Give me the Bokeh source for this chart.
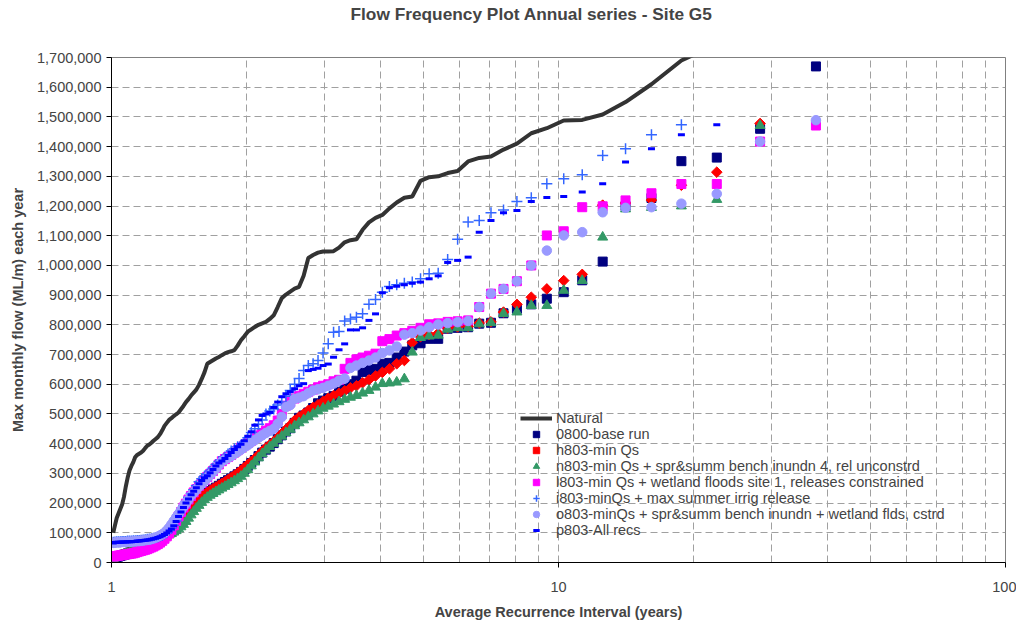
import numpy as np
from bokeh.plotting import figure
from bokeh.models import Range1d, FixedTicker, NumeralTickFormatter, ColumnDataSource, Title
from bokeh.embed import file_html
from bokeh.resources import INLINE

# ---------------- data (flows in thousand ML/m, ranked largest first) ----------------
N_YEARS = 112
rank = np.arange(1, N_YEARS + 1)
ari = (N_YEARS + 1) / rank  # Weibull plotting position, Average Recurrence Interval (years)

natural = [2300, 2050, 1900, 1820, 1745, 1690, 1610, 1550, 1508, 1490,
           1488, 1462, 1445, 1410, 1390, 1367, 1362, 1350, 1318, 1311,
           1300, 1297, 1285, 1232, 1228, 1212, 1192, 1170, 1160, 1145,
           1120, 1088, 1085, 1078, 1060, 1048, 1047, 1047, 1043, 1035,
           1025, 965, 928, 922, 912, 902, 890, 860, 832, 820,
           810, 805, 800, 793, 785, 777, 762, 748, 730, 715,
           711, 708, 704, 698, 692, 687, 681, 675, 669, 640,
           618, 598, 582, 572, 562, 550, 540, 527, 516, 505,
           499, 493, 486, 480, 470, 460, 445, 432, 422, 416,
           410, 403, 397, 393, 385, 376, 370, 366, 362, 355,
           338, 325, 310, 285, 255, 220, 195, 180, 165, 150,
           125, 100]

base_0800 = [1850, 1760, 1670, 1460, 1363, 1351, 1227, 1200, 1013, 950,
             910, 888, 869, 854, 839, 807, 804, 792, 790, 787,
             753, 753, 738, 731, 710, 690, 672, 669, 652, 648,
             641, 612, 600, 585, 575, 560, 553, 545, 536, 520,
             505, 495, 487, 470, 452, 441, 428, 415, 402, 390,
             380, 370, 358, 345, 335, 325, 315, 305, 297, 290,
             283, 277, 271, 265, 258, 252, 246, 240, 235, 228,
             220, 212, 202, 192, 182, 170, 160, 148, 138, 128,
             118, 110, 104, 99, 94, 90, 86, 82, 78, 74,
             70, 66, 61, 57, 54, 51, 48, 45, 43, 40,
             38, 35, 33, 30, 28, 26, 24, 22, 20, 18,
             15, 10]

h803 = [2000, 1900, 1800, 1478, 1314, 1270, 1220, 1210, 1203, 970,
        949, 921, 893, 869, 843, 810, 806, 795, 793, 789,
        772, 767, 760, 740, 680, 669, 652, 640, 628, 615,
        605, 595, 588, 578, 570, 562, 553, 542, 531, 522,
        512, 500, 490, 478, 462, 448, 434, 420, 407, 396,
        386, 374, 362, 350, 340, 330, 320, 310, 301, 293,
        286, 279, 272, 266, 260, 254, 248, 242, 236, 229,
        221, 213, 203, 193, 183, 172, 161, 150, 140, 130,
        120, 112, 106, 100, 95, 90, 86, 82, 78, 74,
        70, 66, 62, 58, 55, 52, 49, 46, 43, 41,
        38, 36, 34, 32, 30, 28, 26, 24, 22, 20,
        18, 14]

n803 = [1900, 1800, 1750, 1471, 1222, 1200, 1195, 1190, 1095, 949,
        916, 865, 865, 843, 838, 807, 803, 790, 790, 785,
        765, 762, 757, 708, 618, 607, 604, 602, 590, 579,
        570, 562, 556, 549, 541, 533, 526, 519, 510, 500,
        490, 480, 470, 460, 448, 437, 425, 413, 401, 390,
        378, 366, 352, 338, 325, 312, 300, 290, 282, 275,
        268, 262, 256, 250, 244, 238, 232, 226, 219, 211,
        202, 192, 182, 171, 160, 149, 138, 128, 120, 113,
        107, 102, 97, 93, 89, 85, 81, 77, 73, 70,
        66, 63, 59, 56, 53, 50, 47, 44, 42, 39,
        37, 35, 33, 31, 29, 27, 25, 23, 21, 19,
        17, 13]

l803 = [1900, 1800, 1471, 1417, 1274, 1274, 1243, 1219, 1199, 1196,
        1115, 1101, 1000, 947, 921, 905, 860, 815, 812, 810,
        805, 802, 790, 780, 772, 764, 752, 745, 703, 696,
        690, 684, 672, 652, 615, 610, 600, 595, 590, 582,
        575, 568, 560, 552, 540, 528, 500, 478, 462, 452,
        444, 436, 428, 420, 410, 402, 394, 386, 378, 370,
        362, 355, 348, 341, 330, 318, 308, 298, 288, 278,
        268, 258, 247, 236, 224, 212, 198, 185, 170, 155,
        140, 125, 110, 98, 88, 80, 73, 67, 62, 58,
        54, 51, 48, 45, 43, 41, 39, 37, 35, 33,
        31, 30, 29, 28, 27, 26, 25, 24, 23, 22,
        21, 20]

i803 = [2100, 1950, 1850, 1780, 1720, 1474, 1440, 1393, 1370, 1305,
        1292, 1275, 1228, 1215, 1187, 1177, 1151, 1146, 1088, 1020,
        974, 972, 955, 944, 940, 935, 929, 910, 885, 869,
        837, 826, 820, 813, 778, 775, 736, 705, 680, 669,
        663, 646, 619, 600, 579, 560, 540, 530, 517, 510,
        500, 480, 465, 450, 438, 420, 405, 395, 390, 383,
        375, 365, 355, 345, 340, 330, 318, 308, 298, 290,
        282, 272, 258, 245, 232, 220, 205, 190, 175, 160,
        140, 125, 115, 108, 100, 96, 92, 89, 86, 84,
        82, 80, 79, 78, 77, 76, 75, 74, 74, 73,
        73, 72, 72, 72, 71, 71, 71, 70, 70, 70,
        69, 68]

o803 = [1900, 1800, 1489, 1417, 1241, 1208, 1196, 1194, 1179, 1112,
        1101, 1050, 1000, 947, 921, 905, 860, 813, 809, 806,
        801, 792, 781, 772, 767, 727, 714, 705, 690, 680,
        672, 663, 655, 619, 612, 602, 595, 588, 583, 579,
        570, 560, 555, 551, 530, 523, 490, 467, 450, 443,
        436, 428, 420, 412, 404, 395, 388, 380, 372, 366,
        358, 352, 346, 340, 328, 315, 305, 295, 285, 274,
        265, 256, 245, 235, 225, 212, 200, 188, 176, 163,
        152, 140, 128, 117, 108, 100, 95, 91, 87, 84,
        81, 79, 77, 76, 75, 74, 73, 72, 72, 71,
        71, 70, 70, 70, 69, 69, 69, 68, 68, 68,
        67, 66]

p803 = [2100, 1950, 1850, 1760, 1474, 1440, 1393, 1348, 1275, 1247,
        1232, 1229, 1215, 1185, 1177, 1151, 1112, 1028, 1017, 1010,
        965, 955, 944, 940, 935, 930, 925, 908, 837, 815,
        790, 783, 783, 736, 716, 691, 668, 663, 654, 650,
        646, 602, 595, 585, 575, 568, 558, 540, 522, 505,
        500, 495, 480, 462, 440, 425, 410, 398, 390, 380,
        370, 360, 350, 342, 335, 325, 313, 302, 292, 285,
        276, 265, 252, 240, 228, 214, 200, 185, 170, 155,
        138, 124, 113, 106, 99, 94, 90, 87, 84, 82,
        80, 78, 77, 76, 75, 74, 73, 72, 72, 71,
        71, 70, 70, 70, 69, 69, 69, 68, 68, 68,
        67, 66]

x_tick_values = [1, 10, 100]
x_minor_values = [2, 3, 4, 5, 6, 7, 8, 9, 20, 30, 40, 50, 60, 70, 80, 90]
y_tick_values = [0, 100000, 200000, 300000, 400000, 500000, 600000, 700000, 800000,
                 900000, 1000000, 1100000, 1200000, 1300000, 1400000, 1500000,
                 1600000, 1700000]

title_text = "Flow Frequency Plot Annual series - Site G5"
series_labels = [
    "Natural",
    "0800-base run",
    "h803-min Qs",
    "n803-min Qs + spr&summ bench inundn 4, rel unconstrd",
    "l803-min Qs + wetland floods site 1, releases constrained",
    "i803-minQs + max summer irrig release",
    "o803-minQs + spr&summ bench inundn + wetland flds, cstrd",
    "p803-All recs",
]

FONT = "Liberation Sans"
W, H = 1016, 622
LEFT, RIGHT, TOP, BOTTOM = 111, 1005, 57, 562

p = figure(width=W, height=H, x_axis_type="log",
           x_range=Range1d(1, 100), y_range=Range1d(0, 1700000),
           output_backend="svg", toolbar_location=None, title_location=None,
           min_border_left=LEFT, min_border_right=W - RIGHT,
           min_border_top=TOP, min_border_bottom=H - BOTTOM)
p.outline_line_color = "#808080"
p.outline_line_width = 1

# spacer panel next to the frame, then the real title above it
p.add_layout(Title(text=" ", text_font_size="1px", standoff=27), "above")
p.add_layout(Title(text=title_text, text_font=FONT, text_font_size="17.3px",
                   text_font_style="bold", align="left", offset=239,
                   vertical_align="top", standoff=4), "above")

def src(vals):
    return ColumnDataSource(dict(ari=ari, flow=np.array(vals, dtype=float) * 1000))

p.line("ari", "flow", source=src(natural), line_color="#333333", line_width=4,
       legend_label=series_labels[0])
p.scatter("ari", "flow", source=src(base_0800), marker="square", size=9,
          color="#000080", legend_label=series_labels[1])
p.scatter("ari", "flow", source=src(h803), marker="square", angle=np.pi / 4, size=7.5,
          color="#FF0000", legend_label=series_labels[2])
p.scatter("ari", "flow", source=src(n803), marker="triangle", size=10,
          color="#339966", legend_label=series_labels[3])
p.scatter("ari", "flow", source=src(l803), marker="square", size=9,
          color="#FF00FF", legend_label=series_labels[4])
p.scatter("ari", "flow", source=src(i803), marker="cross", size=11, line_width=1.5,
          color="#3366FF", legend_label=series_labels[5])
p.scatter("ari", "flow", source=src(o803), marker="circle", size=9.5,
          color="#9999FF", legend_label=series_labels[6])
p.scatter("ari", "flow", source=src(p803), marker="dash", size=7, line_width=3,
          color="#0000FF", legend_label=series_labels[7])

# axes
xa = p.xaxis[0]
xa.ticker = FixedTicker(ticks=x_tick_values, minor_ticks=x_minor_values)
xa.formatter = NumeralTickFormatter(format="0")
xa.axis_label = "Average Recurrence Interval (years)"
xa.axis_label_text_font = FONT
xa.axis_label_text_font_size = "14.5px"
xa.axis_label_text_font_style = "bold"
xa.axis_label_standoff = 9
xa.major_label_text_font = FONT
xa.major_label_text_font_size = "14.5px"
xa.major_label_standoff = 14
xa.major_tick_out = 5
xa.major_tick_in = 0
xa.minor_tick_out = 0
xa.minor_tick_in = 0
xa.axis_line_color = "black"

ya = p.yaxis[0]
ya.ticker = FixedTicker(ticks=y_tick_values)
ya.formatter = NumeralTickFormatter(format="0,0")
ya.axis_label = "Max monthly flow (ML/m) each year"
ya.axis_label_text_font = FONT
ya.axis_label_text_font_size = "14.5px"
ya.axis_label_text_font_style = "bold"
ya.axis_label_standoff = 8
ya.major_label_text_font = FONT
ya.major_label_text_font_size = "14.5px"
ya.major_label_standoff = 5
ya.major_tick_out = 5
ya.major_tick_in = 0
ya.minor_tick_out = 0
ya.minor_tick_in = 0
ya.axis_line_color = "black"

for g in (p.xgrid[0], p.ygrid[0]):
    g.grid_line_color = "#A0A0A0"
    g.grid_line_dash = "7 4"
    g.grid_line_width = 1
p.xgrid[0].minor_grid_line_color = "#A0A0A0"
p.xgrid[0].minor_grid_line_dash = "7 4"
p.ygrid[0].ticker = FixedTicker(ticks=y_tick_values)

lg = p.legend[0]
lg.location = (409, 24)
lg.border_line_color = None
lg.background_fill_alpha = 0
lg.label_text_font = FONT
lg.label_text_font_size = "14.5px"
lg.glyph_width = 32
lg.glyph_height = 16
lg.label_height = 16
lg.label_standoff = 4
lg.spacing = 0
lg.padding = 0
lg.margin = 0

open("out.html", "w").write(file_html(p, INLINE))
